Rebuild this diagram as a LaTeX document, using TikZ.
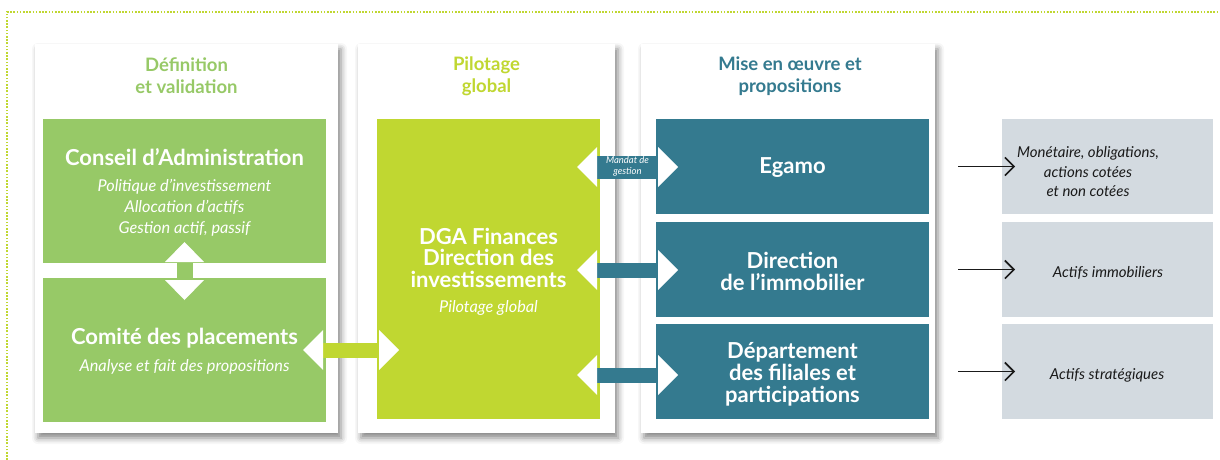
\documentclass[tikz,border=0pt]{standalone}
\usepackage{fontspec}
\setmainfont{Lato}
\usetikzlibrary{calc,arrows.meta,shadows.blur}

\definecolor{leaf}{HTML}{97C967}
\definecolor{lime}{HTML}{C0D731}
\definecolor{petrol}{HTML}{347A8F}
\definecolor{mist}{HTML}{D3DAE0}
\definecolor{ink}{HTML}{1A1A1A}

\tikzset{
  panel/.style={fill=white, anchor=north west, inner sep=0pt, outer sep=0pt,
    blur shadow={shadow xshift=3pt, shadow yshift=-5pt, shadow blur radius=6pt, shadow opacity=48}},
  box/.style={anchor=north west, inner sep=0pt, outer sep=0pt, fill=#1},
  head/.style={align=center, text=#1, font=\bfseries\fontsize{18.5}{22}\selectfont},
  ttl/.style={align=center, text=white, font=\bfseries\fontsize{22}{21.5}\selectfont},
  itm/.style={align=center, text=white, font=\itshape\fontsize{16.3}{21}\selectfont},
  asset/.style={align=center, text=ink, font=\itshape\fontsize{15}{19.5}\selectfont},
  tag/.style={align=center, text=white, font=\itshape\fontsize{9.5}{10.5}\selectfont, inner sep=0pt},
  pointer/.style={line width=1.7pt, ink, -{Straight Barb[length=9pt,width=18pt,line width=1.6pt]}}
}

% two-headed horizontal bar: #1 east side of the left box, #2 west side of the
% right box, #3 bar colour, #4 half height of the bar
\newcommand\hlink[4]{%
  \fill[#3] ($(#1)+(-3,-#4)$) rectangle ($(#2)+(3,#4)$);
  \fill[white] ($(#1)+(-3,-20)$) -- ($(#1)+(-23,0)$) -- ($(#1)+(-3,20)$) -- cycle;
  \fill[white] ($(#2)+(2,-20)$) -- ($(#2)+(22,0)$) -- ($(#2)+(2,20)$) -- cycle;
}

\begin{document}
\begin{tikzpicture}[x=1pt,y=-1pt]
\useasboundingbox (0,0) rectangle (1220,460);

% frame corner
\draw[lime, line width=1.3pt, dash pattern=on 1.6pt off 1.6pt] (7,460) -- (7,12) -- (1220,12);

% column panels
\node[panel, minimum width=303pt, minimum height=389pt] (p1) at (35,44) {};
\node[panel, minimum width=257pt, minimum height=389pt] (p2) at (358,44) {};
\node[panel, minimum width=294pt, minimum height=389pt] (p3) at (641,44) {};

% column headings
\node[head=leaf] (h1) at (186.5,76) {Définition\\et validation};
\node[head=lime] (h2) at (486.5,76) {Pilotage\\global};
\node[head=petrol] (h3) at (790,76) {Mise en œuvre et\\propositions};

% coloured blocks
\node[box=leaf, minimum width=283pt, minimum height=144pt] (ca) at (43,119) {};
\node[box=leaf, minimum width=283pt, minimum height=144pt] (cp) at (43,278) {};
\node[box=lime, minimum width=223pt, minimum height=300pt] (dga) at (377,119) {};
\node[box=petrol, minimum width=273pt, minimum height=95pt] (eg) at (656,119) {};
\node[box=petrol, minimum width=273pt, minimum height=95pt] (di) at (656,222) {};
\node[box=petrol, minimum width=273pt, minimum height=95pt] (df) at (656,324) {};
\node[box=mist, minimum width=211pt, minimum height=95pt] (g1) at (1002,119) {};
\node[box=mist, minimum width=211pt, minimum height=95pt] (g2) at (1002,222) {};
\node[box=mist, minimum width=211pt, minimum height=95pt] (g3) at (1002,324) {};

% block texts
\node[ttl] (caT) at (184.5,157) {Conseil d’Administration};
\node[itm] (caI) at (184.5,208) {Politique d’investissement\\Allocation d’actifs\\Gestion actif, passif};
\node[ttl] (cpT) at (184.5,338) {Comité des placements};
\node[itm] (cpI) at (184.5,367) {Analyse et fait des propositions};
\node[ttl] (dgaT) at (488.5,257.5) {DGA Finances\\Direction des\\investissements};
\node[itm] (dgaI) at (488.5,308) {Pilotage global};
\node[ttl] (egT) at (792.5,168) {Egamo};
\node[ttl] (diT) at (792.5,271.5) {Direction\\de l’immobilier};
\node[ttl, font=\bfseries\fontsize{22}{22}\selectfont] (dfT) at (792.5,374) {Département\\des filiales et\\participations};
\node[asset] (g1T) at (1088,172) {Monétaire, obligations,\\actions cotées\\et non cotées};
\node[asset] (g2T) at (1108,273) {Actifs immobiliers};
\node[asset] (g3T) at (1107,375) {Actifs stratégiques};

% vertical link between the two committees
\coordinate (vt) at (ca.south);
\coordinate (vb) at (cp.north);
\fill[leaf] ($(vt)+(-8,-3)$) rectangle ($(vb)+(8,3)$);
\fill[white] ($(vt)+(-19.5,-1)$) -- ($(vt)+(0,-21)$) -- ($(vt)+(19.5,-1)$) -- cycle;
\fill[white] ($(vb)+(-19.5,2)$) -- ($(vb)+(0,22)$) -- ($(vb)+(19.5,2)$) -- cycle;

% horizontal links
\coordinate (l0a) at (cp.east |- 0,350);
\coordinate (l0b) at (dga.west |- 0,350);
\hlink{l0a}{l0b}{lime}{7.5}
\coordinate (l1a) at (dga.east |- 0,167);
\coordinate (l1b) at (eg.west |- 0,167);
\hlink{l1a}{l1b}{petrol}{11.5}
\coordinate (l2a) at (dga.east |- 0,270);
\coordinate (l2b) at (di.west |- 0,270);
\hlink{l2a}{l2b}{petrol}{7.5}
\coordinate (l3a) at (dga.east |- 0,375);
\coordinate (l3b) at (df.west |- 0,375);
\hlink{l3a}{l3b}{petrol}{7.5}
\node[tag] (mandat) at (627.5,166.5) {Mandat de\\gestion};

% pointers to the asset classes
\coordinate (s1) at ($(p3.east |- g1.west)+(23,0)$);
\coordinate (s2) at ($(p3.east |- g2.west)+(23,0)$);
\coordinate (s3) at ($(p3.east |- g3.west)+(23,0)$);
\draw[pointer] (s1) -- ($(g1.west)+(13,0)$);
\draw[pointer] (s2) -- ($(g2.west)+(13,0)$);
\draw[pointer] (s3) -- ($(g3.west)+(13,0)$);
\end{tikzpicture}
\end{document}
